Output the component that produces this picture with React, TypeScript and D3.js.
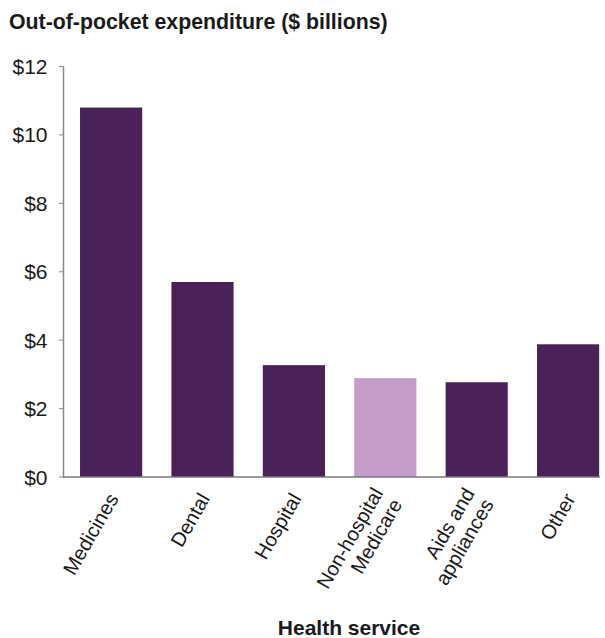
import React from "react";
import * as d3 from "d3";

const categories: string[][] = [
  ["Medicines"],
  ["Dental"],
  ["Hospital"],
  ["Non-hospital", "Medicare"],
  ["Aids and", "appliances"],
  ["Other"],
];
const values: number[] = [10.8, 5.7, 3.27, 2.89, 2.77, 3.88];
const highlight: boolean[] = [false, false, false, true, false, false];
const yTicks: number[] = [0, 2, 4, 6, 8, 10, 12];
const title = "Out-of-pocket expenditure ($ billions)";
const xTitle = "Health service";

const W = 605;
const H = 638;

export default function App() {
  const keys = categories.map((c) => c.join(" "));
  const x = d3
    .scaleBand<string>()
    .domain(keys)
    .range([65.4, 613.8])
    .paddingInner(0.32)
    .paddingOuter(0.16);
  const y = d3.scaleLinear().domain([0, 12]).range([477, 66.5]);
  const font = "'Liberation Sans', Arial, sans-serif";
  const angle = -60;

  return (
    <svg
      width={W}
      height={H}
      style={{ position: "absolute", left: 0, top: 0 }}
      fontFamily={font}
    >
      <rect width={W} height={H} fill="#fff" />
      <text x={9} y={29} fontSize={21.3} fontWeight="bold" fill="#1a1a1a">
        {title}
      </text>
      {values.map((v, i) => (
        <rect
          key={keys[i]}
          x={x(keys[i])}
          y={y(v)}
          width={x.bandwidth()}
          height={y(0) - y(v)}
          fill={highlight[i] ? "#c39cc8" : "#4a2259"}
        />
      ))}
      {/* y axis */}
      <line x1={63.5} x2={63.5} y1={y(12)} y2={y(0)} stroke="#8a8a8a" strokeWidth={1.5} />
      {yTicks.map((t) => (
        <g key={t}>
          <line x1={59} x2={63.5} y1={y(t)} y2={y(t)} stroke="#8a8a8a" strokeWidth={1} />
          <text
            x={47.5}
            y={y(t)}
            dy="0.36em"
            textAnchor="end"
            fontSize={21}
            fill="#1a1a1a"
          >
            {"$" + t}
          </text>
        </g>
      ))}
      {/* x axis */}
      <line x1={63} x2={600} y1={y(0)} y2={y(0)} stroke="#7a7a7a" strokeWidth={1.5} />
      {categories.map((lines, i) => {
        const cx = (x(keys[i]) as number) + x.bandwidth() / 2;
        const n = lines.length;
        return (
          <text
            key={keys[i]}
            transform={`translate(${cx + 2},${495}) rotate(${angle})`}
            textAnchor="end"
            fontSize={20}
            fill="#1a1a1a"
          >
            {lines.map((l, j) => (
              <tspan key={j} x={0} dy={j === 0 ? `${0.35 - (n - 1) * 0.55}em` : "1.1em"}>
                {l}
              </tspan>
            ))}
          </text>
        );
      })}
      <text
        x={349}
        y={635}
        textAnchor="middle"
        fontSize={21}
        fontWeight="bold"
        fill="#1a1a1a"
      >
        {xTitle}
      </text>
    </svg>
  );
}
